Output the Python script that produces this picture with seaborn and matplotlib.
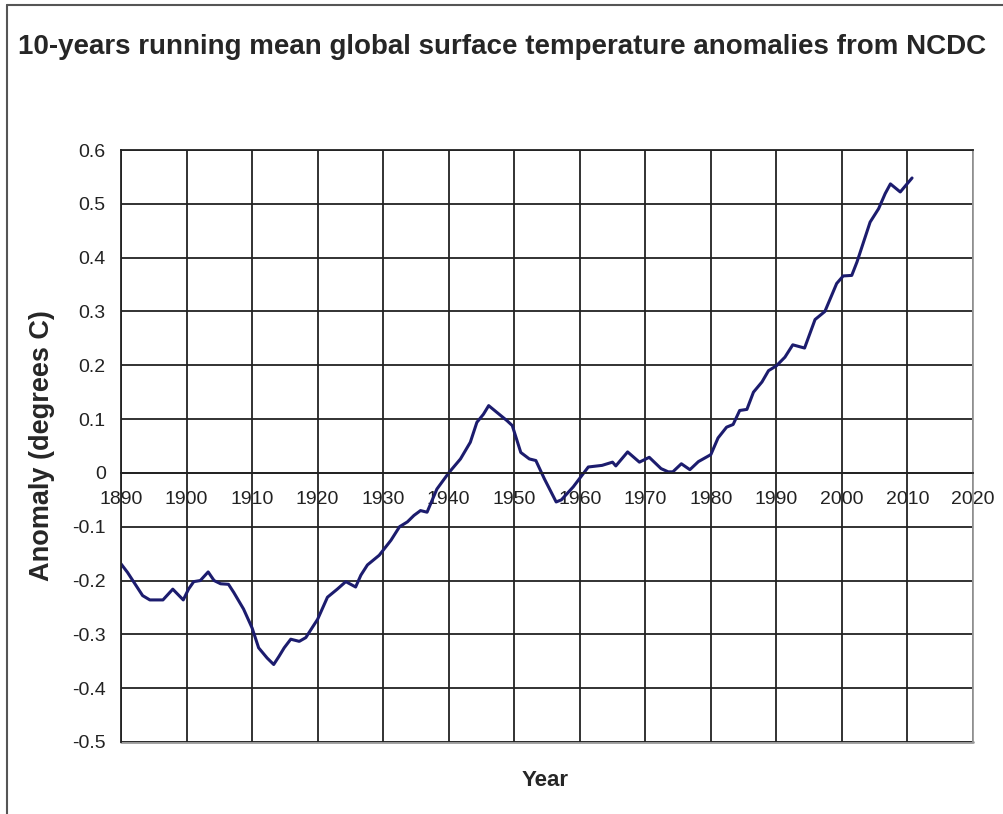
import numpy as np
import pandas as pd
import matplotlib
matplotlib.use("Agg")
import matplotlib.pyplot as plt
import seaborn as sns
from matplotlib.lines import Line2D

years = [1890.0, 1891.0, 1891.8, 1893.3, 1894.4, 1896.4, 1897.9, 1899.5, 1900.3, 1901.1,
         1902.1, 1903.3, 1904.2, 1905.2, 1906.4, 1907.2, 1908.7, 1910.0, 1911.0, 1912.3,
         1913.3, 1914.1, 1914.9, 1915.9, 1917.2, 1918.2, 1919.2, 1920.0, 1921.5, 1923.0,
         1924.3, 1925.8, 1926.6, 1927.6, 1929.4, 1931.2, 1932.5, 1933.7, 1934.7, 1935.7,
         1936.7, 1938.2, 1940.0, 1941.8, 1943.3, 1944.3, 1945.3, 1946.1, 1947.1, 1948.9,
         1949.7, 1951.0, 1952.3, 1953.3, 1954.6, 1956.4, 1957.2, 1959.0, 1961.3, 1963.4,
         1965.0, 1965.5, 1967.3, 1969.1, 1970.6, 1972.4, 1973.5, 1974.2, 1975.5, 1976.8,
         1978.1, 1980.0, 1981.1, 1982.4, 1983.4, 1984.4, 1985.5, 1986.5, 1987.8, 1988.8,
         1990.0, 1991.3, 1992.5, 1994.3, 1995.9, 1997.4, 1999.2, 2000.2, 2001.5, 2002.3,
         2003.3, 2004.3, 2005.6, 2006.6, 2007.4, 2008.9, 2010.7]
anomaly = [-0.169, -0.185, -0.200, -0.228, -0.236, -0.236, -0.216, -0.236, -0.216, -0.202,
           -0.200, -0.184, -0.200, -0.206, -0.207, -0.222, -0.253, -0.288, -0.325, -0.344,
           -0.356, -0.341, -0.325, -0.309, -0.313, -0.306, -0.287, -0.272, -0.231, -0.216,
           -0.202, -0.212, -0.190, -0.171, -0.153, -0.125, -0.100, -0.091, -0.079, -0.070,
           -0.073, -0.030, 0.000, 0.026, 0.057, 0.094, 0.109, 0.125, 0.115, 0.097,
           0.088, 0.038, 0.026, 0.023, -0.011, -0.054, -0.050, -0.026, 0.011, 0.014,
           0.020, 0.013, 0.039, 0.020, 0.029, 0.008, 0.002, 0.002, 0.017, 0.006,
           0.021, 0.034, 0.065, 0.085, 0.090, 0.116, 0.118, 0.150, 0.169, 0.190,
           0.199, 0.215, 0.238, 0.232, 0.285, 0.300, 0.352, 0.366, 0.367, 0.392,
           0.429, 0.466, 0.491, 0.519, 0.537, 0.522, 0.548]

x_ticks = list(range(1890, 2021, 10))
y_ticks = [0.6, 0.5, 0.4, 0.3, 0.2, 0.1, 0.0, -0.1, -0.2, -0.3, -0.4, -0.5]
y_tick_labels = ["0.6", "0.5", "0.4", "0.3", "0.2", "0.1", "0", "-0.1", "-0.2", "-0.3", "-0.4", "-0.5"]

df = pd.DataFrame({"Year": years, "Anomaly": anomaly})

sns.set_style("white")
plt.rcParams['font.family'] = ['Liberation Sans', 'DejaVu Sans']

fig = plt.figure(figsize=(10.04, 8.14), dpi=100)
ax = fig.add_axes([121/1004, 1-742/814, (973-121)/1004, (742-150)/814])

sns.lineplot(data=df, x="Year", y="Anomaly", ax=ax, color="#1c1c6e", linewidth=2.2, sort=False)

ax.spines['bottom'].set_position(('data', 0))

ax.set_xlim(1890, 2020)
ax.set_ylim(-0.5, 0.6)
ax.set_xticks(x_ticks)
ax.set_xticklabels([str(t) for t in x_ticks], fontsize=14, color="#222222")
ax.set_yticks(y_ticks)
ax.set_yticklabels(y_tick_labels, fontsize=14, color="#222222")
ax.grid(True, color="#222222", linewidth=1.3)
ax.set_axisbelow(True)

ax.spines['bottom'].set_color("#222222")
ax.spines['left'].set_color("#222222")
ax.spines['top'].set_color("#222222")
ax.spines['right'].set_color("#999999")
for s in ax.spines.values():
    s.set_linewidth(1.3)
ax.axhline(-0.5, color="#999999", linewidth=2, clip_on=False, zorder=0)
ax.tick_params(axis='x', direction='inout', length=6, pad=10, color="#222222")
ax.tick_params(axis='y', direction='out', length=6, pad=5, color="#222222")

ax.set_xlabel("")
ax.set_ylabel("Anomaly (degrees C)", fontsize=19.5, fontweight='bold', labelpad=12)
fig.text(545/1004, 1-780/814, "Year", fontsize=16, fontweight='bold', ha='center', va='center')
fig.text(502/1004, 1-47/814, "10-years running mean global surface temperature anomalies from NCDC",
         fontsize=20, fontweight='bold', ha='center', va='center')

fig.add_artist(Line2D([7/1004, 7/1004], [0, 1-5/814], color="#555555", linewidth=1.5, transform=fig.transFigure))
fig.add_artist(Line2D([7/1004, 1], [1-5/814, 1-5/814], color="#555555", linewidth=1.5, transform=fig.transFigure))

fig.savefig("out.png", dpi=100)
